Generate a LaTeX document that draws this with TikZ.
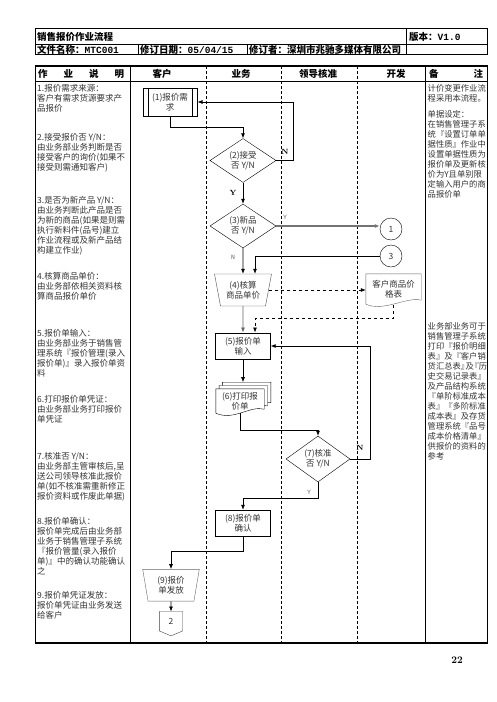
\documentclass[tikz,border=0pt]{standalone}
\usepackage{fontspec}
\setmonofont{Liberation Mono}
\newfontfamily\cjk{Noto Sans CJK SC}
\usetikzlibrary{shapes.geometric,arrows.meta,backgrounds}

\newcommand\docshape[2][]{\draw[fill=white,#1] (#2.south west) -- (#2.north west) -- (#2.north east) -- ([yshift=4pt]#2.south east) .. controls +(-14,-4) and +(18,8) .. (#2.south west) -- cycle;}

\begin{document}
\begin{tikzpicture}[x=1pt,y=-1pt,
  txt/.style={font=\cjk\fontsize{8.5}{10}\selectfont, text=black!80, inner sep=0pt},
  note/.style={txt, anchor=north west, align=left},
  hd/.style={font=\cjk\bfseries\fontsize{9.5}{10}\selectfont, inner sep=0pt},
  proc/.style={txt, draw, rectangle, minimum width=55pt, minimum height=26.6pt, align=center},
  dec/.style={txt, draw, diamond, aspect=1.5, minimum width=66pt, minimum height=44pt, align=center},
  manual/.style={txt, draw=black!70, trapezium, trapezium stretches body, shape border rotate=180, align=center},
  onpage/.style={txt, draw, circle, minimum size=22pt},
  flow/.style={-{Latex[length=5pt,width=4pt]}, line width=0.7pt},
  lane/.style={line width=0.7pt, dash pattern=on 3pt off 2pt},
  yes/.style={font=\bfseries\fontsize{7.5}{8}\selectfont, inner sep=0pt},
  yes2/.style={font=\ttfamily\fontsize{6.5}{8}\selectfont, text=black!60, inner sep=0pt}]
\useasboundingbox (0,0) rectangle (496,702);

\draw[line width=1pt] (35.5,28.5) rectangle (487.7,54.3);
\draw[line width=0.8pt] (35.5,44.7) -- (487.7,44.7);
\draw[line width=0.8pt] (406.7,28.5) -- (406.7,54.3) (138,44.7) -- (138,54.3) (247,44.7) -- (247,54.3);
\node[hd, anchor=west] (title) at (37,36.6) {销售报价作业流程};
\node[hd, anchor=west] (ver) at (409,36.6) {版本：\texttt{V1.0}};
\node[hd, anchor=west] (fname) at (37,49.5) {文件名称：\texttt{MTC001}};
\node[hd, anchor=west] (fdate) at (140,49.5) {修订日期：\texttt{05/04/15}};
\node[hd, anchor=west] (fby) at (249,49.5) {修订者：深圳市兆驰多媒体有限公司};

\draw[line width=1.2pt] (35.5,66) rectangle (487.7,643);
\draw[line width=0.9pt] (35.5,81.5) -- (487.7,81.5);
\draw[line width=0.9pt] (130,66) -- (130,643) (425.7,66) -- (425.7,643);
\foreach \x in {206,281,357} \draw[lane] (\x,66) -- (\x,643);
\node[hd, text width=86pt, anchor=west] (h1) at (38,73.8) {作\hfill 业\hfill 说\hfill 明};
\node[hd] (h2) at (162,73.8) {客户};
\node[hd] (h3) at (241,73.8) {业务};
\node[hd] (h4) at (318,73.8) {领导核准};
\node[hd] (h5) at (396,73.8) {开发};
\node[hd, text width=54pt, anchor=west] (h6) at (429,73.8) {备\hfill 注};

\node[note] (d1) at (37,84.5) {1.报价需求来源：\\客户有需求货源要求产\\品报价};
\node[note] (d2) at (37,133.5) {2.接受报价否 Y/N：\\由业务部业务判断是否\\接受客户的询价(如果不\\接受则需通知客户)};
\node[note] (d3) at (37,196.5) {3.是否为新产品 Y/N：\\由业务判断此产品是否\\为新的商品(如果是则需\\执行新料件(品号)建立\\作业流程或及新产品结\\构建立作业)};
\node[note] (d4) at (37,272.5) {4.核算商品单价：\\由业务部依相关资料核\\算商品报价单价};
\node[note] (d5) at (37,329.5) {5.报价单输入：\\由业务部业务于销售管\\理系统『报价管理(录入\\报价单)』录入报价单资\\料};
\node[note] (d6) at (37,395.5) {6.打印报价单凭证：\\由业务部业务打印报价\\单凭证};
\node[note] (d7) at (37,452.5) {7.核准否 Y/N：\\由业务部主管审核后,呈\\送公司领导核准此报价\\单(如不核准需重新修正\\报价资料或作废此单据)};
\node[note] (d8) at (37,517.5) {8.报价单确认：\\报价单完成后由业务部\\业务于销售管理子系统\\『报价管量(录入报价\\单)』中的确认功能确认\\之};
\node[note] (d9) at (37,591.5) {9.报价单凭证发放：\\报价单凭证由业务发送\\给客户};

\node[note, font=\cjk\fontsize{8.3}{10}\selectfont] (r1) at (427.5,84.5) {计价变更作业流\\程采用本流程。\\[6pt]单据设定：\\在销售管理子系\\统『设置订单单\\据性质』作业中\\设置单据性质为\\报价单及更新核\\价为Y且单别限\\定输入用户的商\\品报价单};
\node[note, font=\cjk\fontsize{8.3}{10}\selectfont] (r2) at (427.5,322) {业务部业务可于\\销售管理子系统\\打印『报价明细\\表』及『客户销\\货汇总表』\kern-3.5pt 及\kern-3.5pt『历\\史交易记录表』\\及产品结构系统\\『单阶标准成本\\表』『多阶标准\\成本表』及存货\\管理系统『品号\\成本价格清单』\\供报价的资料的\\参考};

\node[proc, minimum width=54.6pt, minimum height=27.7pt] (n1) at (170,102) {(1)报价需\\求};
\draw ([xshift=5.6pt]n1.north west) -- ([xshift=5.6pt]n1.south west) ([xshift=-5.6pt]n1.north east) -- ([xshift=-5.6pt]n1.south east);
\node[dec] (n2) at (243,160.5) {(2)接受\\否 Y/N};
\node[dec] (n3) at (243,226) {(3)新品\\否 Y/N};
\node[manual, minimum width=57pt, minimum height=32pt, trapezium angle=71.5] (n4) at (243,290) {(4)核算\\商品单价};
\node[onpage] (c1) at (391,229) {1};
\node[onpage] (c3) at (391,256) {3};
\node[txt, minimum width=55pt, minimum height=30pt, align=center] (pdoc) at (393.5,289) {客户商品价\\格表};
\coordinate (pdocb) at (393.5,305);
\node[proc] (n5) at (243,346) {(5)报价单\\输入};
\node[txt, minimum width=48pt, minimum height=24pt] (n6k) at (246.6,394.4) {};
\node[txt, minimum width=48pt, minimum height=24pt] (n6m) at (243.3,397.7) {};
\node[txt, minimum width=48pt, minimum height=24pt, align=center] (n6) at (240,401) {(6)打印报\\价单};
\begin{scope}[on background layer]
\docshape[draw=black!60]{pdoc}
\docshape{n6k}
\docshape{n6m}
\docshape{n6}
\end{scope}
\node[dec, minimum width=64pt, minimum height=46pt] (n7) at (318,459) {(7)核准\\否 Y/N};
\node[proc] (n8) at (243,523.3) {(8)报价单\\确认};
\node[manual, draw=black!60, minimum width=56.6pt, minimum height=31.7pt, trapezium angle=73.3] (n9) at (171,585.2) {(9)报价\\单发放};
\node[txt, minimum width=23pt, minimum height=19pt] (c2) at (171,621.2) {2};
\draw[black!75] (c2.north west) -- (c2.north east) -- (c2.south east) -- ([yshift=-5pt]c2.south) -- (c2.south west) -- cycle;

\draw[flow] (n1.south) -- ++(0,11.5) -| (n2.north);
\draw[flow] (n2.east) -- ++(17,0) |- (n1.east);
\node[yes] (l2n) at (285,152) {N};
\draw[flow] (n2.south) -- (n3.north);
\node[yes] (l2y) at (233,193) {Y};
\draw[flow, draw=black!55, line width=1.6pt] (n3.east) -- (n3.east -| c1.west);
\node[yes2] (l3y) at (285,217) {Y};
\draw[flow] (n3.south) -- (n4.north);
\node[yes2] (l3n) at (233,257) {N};
\draw[flow] (c3.west) -| ([xshift=12pt]n4.north);
\draw[flow, dashed] (n4.east) -- (n4.east -| pdoc.west);
\draw[flow, dashed] (pdocb) -- ++(0,13) -| ([xshift=12pt]n5.north);
\draw[flow, draw=black!60] (n4.south) -- (n5.north);
\draw[flow] (n5.south) -- (n5.south |- n6k.north);
\draw[flow] (n6.south) -- ++(0,17) -| (n7.north);
\draw[flow] (n7.east) -- ++(20,0) |- (n5.east);
\node[yes] (l7n) at (360,448) {N};
\draw[flow] (n7.south) -- ++(0,16) -| (n8.north);
\node[yes2] (l7y) at (309,492) {Y};
\draw[flow] (n8.south) -- ++(0,14.3) -| (n9.north);
\draw[flow] (n9.south) -- (c2.north);

\node[font=\bfseries\fontsize{10}{12}\selectfont] (pg) at (457,660) {22};
\end{tikzpicture}
\end{document}
